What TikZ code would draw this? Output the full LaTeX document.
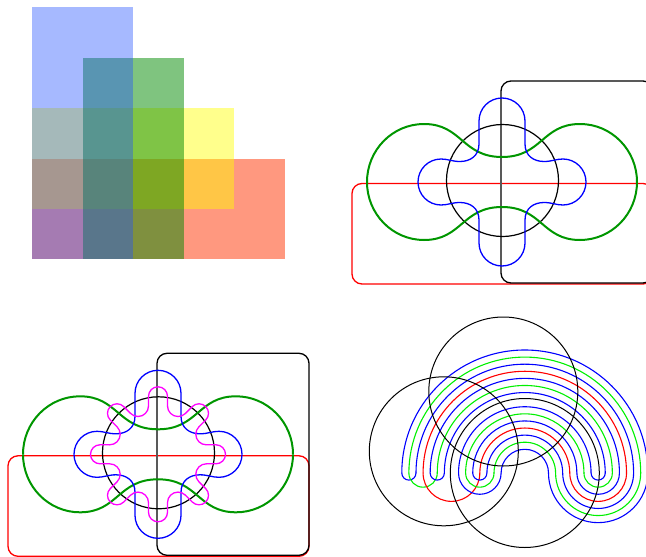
\documentclass[tikz,border=0pt]{standalone}
\usepackage{tikz}
\usetikzlibrary{calc}
\definecolor{vblue}{RGB}{32,80,255}
\definecolor{vgreen}{RGB}{0,137,0}
\definecolor{vyellow}{RGB}{255,255,0}
\definecolor{vred}{RGB}{255,50,0}
\definecolor{dgreen}{RGB}{0,150,0}
\definecolor{agreen}{RGB}{0,240,0}
\definecolor{vmagenta}{RGB}{255,0,255}

\begin{document}
\begin{tikzpicture}[x=1pt,y=1pt,
  thin line/.style={line width=1.2pt},
  box/.style={rounded corners=10pt, line width=1.3pt},
  peanut/.style={draw=dgreen, line width=2pt},
  petal/.style={draw=blue, line width=1.3pt},
  wavy/.style={draw=vmagenta, line width=1.3pt, line cap=round},
  arch/.style={line width=1.1pt, line cap=round},
]
\useasboundingbox (0,0) rectangle (646,-557);
\clip (0,0) rectangle (646,-557);

% staircase of four sets
\fill[vred, fill opacity=.5] (32,-158.7) rectangle (284.7,-259.3);
\fill[vyellow, fill opacity=.45] (32,-108) rectangle (234,-209);
\fill[vgreen, fill opacity=.5] (82.7,-57.7) rectangle (183.7,-259.3);
\fill[vblue, fill opacity=.4] (32,-7.3) rectangle (133.3,-259.3);

% five and six sets
\coordinate (p2) at (502,-182);
\coordinate (p3) at (158,-454.3);
\foreach \c in {p2,p3} {
  \begin{scope}[shift={(\c)}]
    \draw[box, red] (-150,-1.5) rectangle (151,-102);
    \draw[box, black] (-1,101) rectangle (151,-101);
    \draw[black!65, line width=1.8pt] (-1,91) -- (-1,-91);
    \draw[thin line] (0.5,1.5) circle[radius=56];
    \foreach \sx/\sy in {1/1,-1/1,1/-1,-1/-1} {
      \draw[peanut, xscale=\sx, yscale=\sy] (0,25) .. controls (-40,25) and (-40,58) .. (-78,58)
        arc[start angle=90, end angle=180, x radius=57, y radius=58];
      \draw[petal, xscale=\sx, yscale=\sy] (0,84) arc[start angle=90, end angle=180, radius=23]
        -- (-23,38) .. controls (-23,26) and (-32,20.5) .. (-42,20.5)
        .. controls (-50,20.5) and (-54,23) .. (-61,23)
        arc[start angle=90, end angle=180, radius=23];
    }
  \end{scope}
}
\begin{scope}[shift={(p3)}]
  \foreach \k in {0,...,7}
    \draw[wavy, rotate=45*\k] (9.5,48.3) -- (9.5,58) arc[start angle=0, end angle=180, radius=9.5]
      -- (-9.5,48.3) arc[start angle=0, end angle=-135, radius=10.5];
\end{scope}

% three circles and nested arches
\coordinate (cA) at (503.3,-391.5);
\coordinate (cB) at (443.8,-451.3);
\coordinate (cC) at (524.8,-473);
\foreach \j/\col in {0/blue,1/agreen,2/blue,3/red,4/blue,5/agreen,6/blue,
                     8/blue,9/agreen,10/blue,11/red,12/blue,13/agreen,14/blue}
  \draw[arch, \col] ($(cC)+({23.7+7.093*\j},0)$) arc[start angle=0, end angle=180, radius={23.7+7.093*\j}];
\foreach \j/\col in {0/blue,1/agreen,2/blue,3/red,4/blue,5/agreen,6/blue}
  \draw[arch, \col] ($(cC)+({23.7+7.093*\j},0)$) arc[start angle=180, end angle=360, radius={(7-\j)*7.093}];
\foreach \a/\b/\col in {14/12/blue,13/9/agreen,10/8/blue,11/3/red,6/0/blue,5/1/agreen,4/2/blue}
  \draw[arch, \col] ($(cC)-({23.7+7.093*\a},0)$) arc[start angle=180, end angle=360, radius={(\a-\b)*3.5465}];
\foreach \c in {cA,cB,cC}
  \draw[line width=1pt] (\c) circle[radius=74.5];
\end{tikzpicture}
\end{document}
